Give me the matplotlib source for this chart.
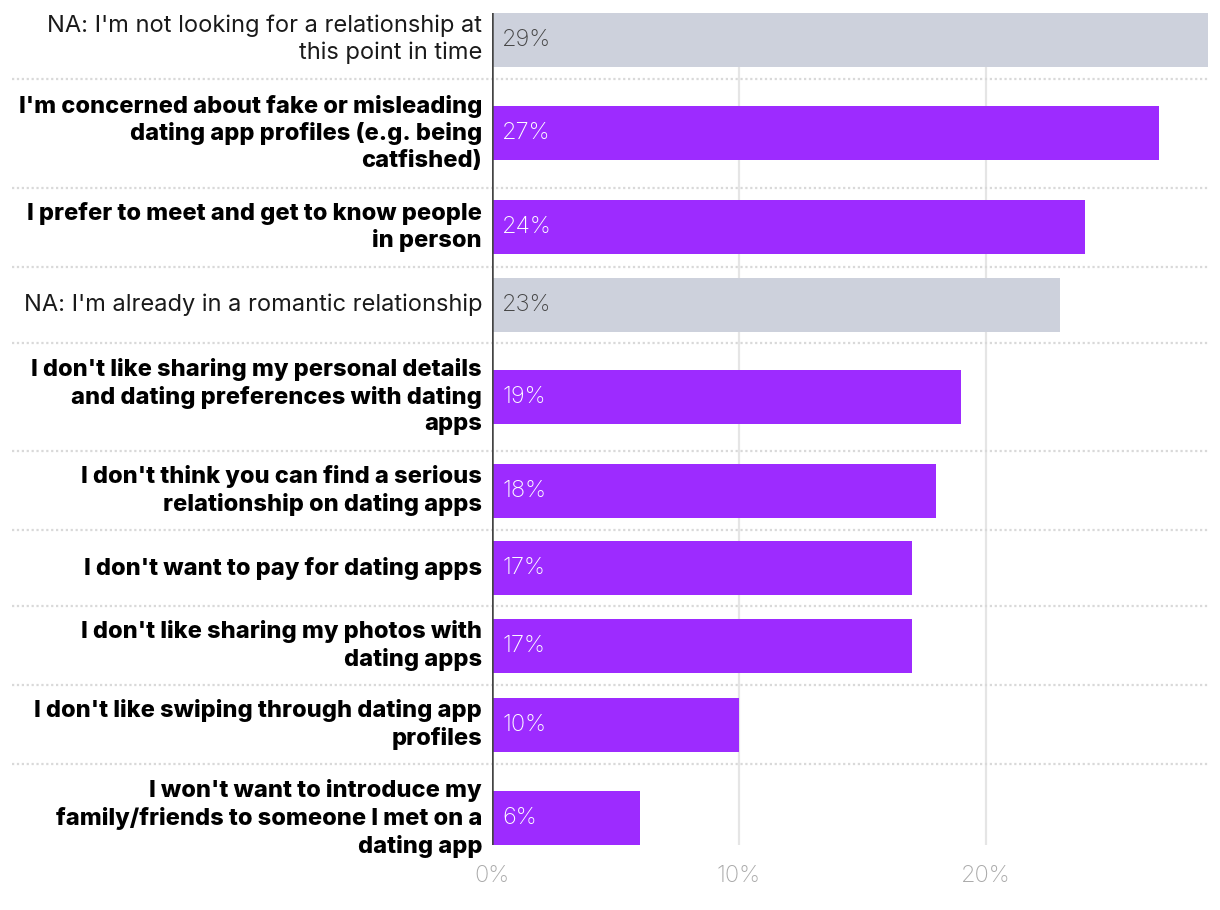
import matplotlib
matplotlib.use("Agg")
import matplotlib.pyplot as plt
import matplotlib.transforms as mtransforms

# ---- data ----
labels = [
    "NA: I'm not looking for a relationship at\nthis point in time",
    "I'm concerned about fake or misleading\ndating app profiles (e.g. being\ncatfished)",
    "I prefer to meet and get to know people\nin person",
    "NA: I'm already in a romantic relationship",
    "I don't like sharing my personal details\nand dating preferences with dating\napps",
    "I don't think you can find a serious\nrelationship on dating apps",
    "I don't want to pay for dating apps",
    "I don't like sharing my photos with\ndating apps",
    "I don't like swiping through dating app\nprofiles",
    "I won't want to introduce my\nfamily/friends to someone I met on a\ndating app",
]
values = [29, 27, 24, 23, 19, 18, 17, 17, 10, 6]
is_na = [True, False, False, True, False, False, False, False, False, False]
tick_values = [0, 10, 20]
tick_labels = ["0%", "10%", "20%"]

# ---- style ----
FONT = "Inter"
PURPLE = "#9D2BFF"
GREY_BAR = "#CDD1DC"
W, H, DPI = 1220, 910, 100

# row layout: height of a row depends on the number of label lines (pixel units)
row_h = {1: 76.0, 2: 79.0, 3: 108.5}
bar_h = 54.0

centers = []
bounds = []
top = 0.0
for lab in labels:
    n = lab.count("\n") + 1
    h = row_h[n]
    centers.append(top + h / 2)
    bounds.append(top + h)
    top += h

fig = plt.figure(figsize=(W / DPI, H / DPI), dpi=DPI)
ax_left, ax_right = 492 / W, 1208 / W
y_top_px = centers[0] - bar_h / 2
y_bot_px = centers[-1] + bar_h / 2
ax = fig.add_axes([ax_left, 1 - y_bot_px / H, ax_right - ax_left, (y_bot_px - y_top_px) / H])

xmax = max(values)
ax.set_xlim(0, xmax)
ax.set_ylim(y_bot_px, y_top_px)
px = xmax / (1208 - 492)  # data units per pixel (x)

for s in ax.spines.values():
    s.set_visible(False)

# gridlines
for t in tick_values[1:]:
    ax.axvline(t, color="#E5E5E5", lw=1.6, zorder=0)

colors = [GREY_BAR if na else PURPLE for na in is_na]
ax.barh(centers, values, height=bar_h, color=colors, zorder=2)

# separators between rows
trans = mtransforms.blended_transform_factory(ax.transAxes, ax.transData)
x0 = (12 - 492) / (1208 - 492)
for b in bounds[:-1]:
    ax.plot([x0, 1.0], [b, b], transform=trans, color="#D9D9D9", lw=1.6,
            linestyle=(0, (1.0, 1.2)), clip_on=False, zorder=1)

# axis line
ax.axvline(0, color="#444444", lw=1.8, zorder=3)

# category labels
for c, lab, na in zip(centers, labels, is_na):
    ax.text(-10 * px, c, lab, ha="right", va="center",
            fontsize=17, family=FONT, fontweight="normal" if na else 800,
            color="#1a1a1a" if na else "#000000", linespacing=1.27,
            multialignment="right")

# value labels
for c, v, na in zip(centers, values, is_na):
    ax.text(10 * px, c, f"{v}%", ha="left", va="center",
            fontsize=17, family=FONT, fontweight="light",
            color="#444444" if na else "#FFFFFF", zorder=4)

ax.set_yticks([])
ax.set_xticks(tick_values)
ax.set_xticklabels(tick_labels, family=FONT, fontsize=17, fontweight="light", color="#AAAAAA")
ax.tick_params(axis="x", length=0, pad=14)

fig.savefig("out.png", dpi=DPI, facecolor="white")
